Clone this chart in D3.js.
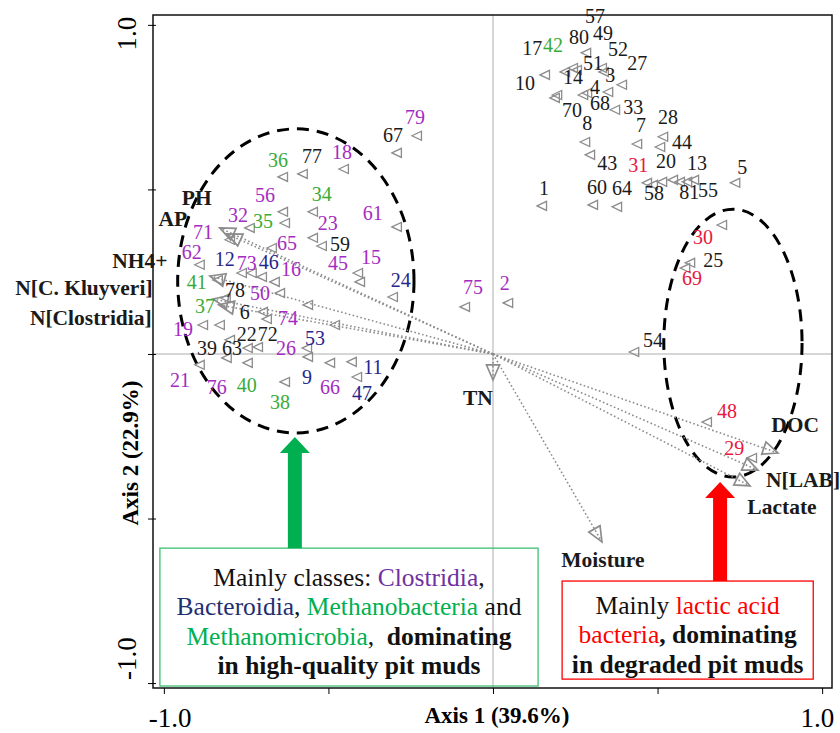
<!DOCTYPE html>
<html lang="en">
<head>
<meta charset="UTF-8">
<title>RDA biplot</title>
<script src="https://d3js.org/d3.v7.min.js"></script>
<style>
  body { margin: 0; background: #fff; }
  text { font-family: "Liberation Serif", "Times New Roman", serif; }
  .lab { font-size: 20px; }
  .env { font-size: 21.5px; font-weight: bold; fill: #1a1a1a; }
  .tri { fill: none; stroke: #8c8c8c; stroke-width: 1.3px; }
  .vec { stroke: #8c8c8c; stroke-width: 1.6px; stroke-dasharray: 1.6 2.4; fill: none; }
  .head { fill: none; stroke: #8c8c8c; stroke-width: 1.7px; }
  .zero { stroke: #c8c8c8; stroke-width: 1.5px; }
  .ell { fill: none; stroke: #000; stroke-width: 3px; stroke-dasharray: 12 8; }
  .box-text { font-size: 25.5px; }
</style>
</head>
<body>
<svg width="840" height="733"></svg>
<script>
// sample scores: id, class, point x, point y, label x, label y
const samples = [
  ["57","k",0.283,0.915,0.310,1.027], ["17","k",0.158,0.848,0.119,0.930],
  ["42","m",0.219,0.857,0.182,0.939], ["80","k",0.243,0.869,0.261,0.964],
  ["49","k",0.331,0.869,0.334,0.976], ["52","k",0.337,0.857,0.380,0.927],
  ["51","k",0.274,0.787,0.304,0.884], ["3","k",0.350,0.796,0.356,0.848],
  ["27","k",0.392,0.818,0.438,0.884], ["10","k",0.195,0.787,0.097,0.824],
  ["14","k",0.255,0.863,0.243,0.842], ["4","k",0.286,0.793,0.310,0.812],
  ["68","k",0.371,0.742,0.325,0.763], ["70","k",0.188,0.778,0.240,0.742],
  ["8","k",0.280,0.644,0.286,0.702], ["33","k",0.438,0.638,0.426,0.751],
  ["7","k",0.508,0.629,0.450,0.696], ["28","k",0.517,0.660,0.532,0.720],
  ["44","k",0.547,0.529,0.574,0.644], ["43","k",0.295,0.605,0.347,0.581],
  ["31","l",0.468,0.520,0.441,0.574], ["20","k",0.514,0.523,0.526,0.587],
  ["13","k",0.590,0.523,0.620,0.581], ["81","k",0.568,0.523,0.596,0.492],
  ["55","k",0.611,0.529,0.653,0.498], ["58","k",0.486,0.514,0.489,0.489],
  ["5","k",0.736,0.520,0.757,0.568], ["1","k",0.149,0.450,0.155,0.505],
  ["60","k",0.304,0.453,0.316,0.508], ["64","k",0.377,0.447,0.392,0.505],
  ["79","c",-0.231,0.663,-0.237,0.720], ["67","k",-0.292,0.611,-0.304,0.666],
  ["75","c",-0.085,0.143,-0.061,0.204], ["2","c",0.046,0.155,0.036,0.216],
  ["54","k",0.429,0.006,0.486,0.043], ["24","b",-0.304,0.173,-0.280,0.225],
  ["61","c",-0.292,0.386,-0.365,0.429],
  ["30","l",0.696,0.392,0.638,0.356], ["25","k",0.599,0.277,0.669,0.286],
  ["69","l",0.584,0.261,0.605,0.231], ["48","l",0.650,-0.207,0.711,-0.173],
  ["29","l",0.787,-0.316,0.733,-0.286],
  ["36","m",-0.638,0.538,-0.653,0.590], ["77","k",-0.578,0.547,-0.550,0.602],
  ["18","c",-0.453,0.562,-0.459,0.614], ["56","c",-0.638,0.432,-0.693,0.483],
  ["34","m",-0.547,0.432,-0.520,0.486], ["32","c",-0.739,0.383,-0.775,0.422],
  ["35","m",-0.632,0.398,-0.699,0.404], ["23","c",-0.547,0.353,-0.502,0.398],
  ["59","k",-0.520,0.328,-0.465,0.334], ["71","c",-0.799,0.347,-0.881,0.371],
  ["65","c",-0.672,0.322,-0.626,0.337], ["62","c",-0.891,0.271,-0.915,0.310],
  ["12","b",-0.763,0.246,-0.815,0.289], ["73","c",-0.733,0.246,-0.748,0.277],
  ["46","b",-0.702,0.234,-0.681,0.280], ["16","c",-0.663,0.219,-0.614,0.258],
  ["45","c",-0.410,0.246,-0.471,0.277], ["15","c",-0.404,0.219,-0.371,0.295],
  ["41","m",-0.836,0.225,-0.900,0.219], ["78","k",-0.812,0.170,-0.784,0.195],
  ["50","c",-0.647,0.185,-0.708,0.185], ["37","m",-0.830,0.088,-0.875,0.146],
  ["6","k",-0.699,0.128,-0.754,0.128], ["74","c",-0.562,0.149,-0.623,0.109],
  ["19","c",-0.881,0.088,-0.942,0.076], ["22","k",-0.714,0.021,-0.748,0.061],
  ["72","k",-0.687,0.106,-0.684,0.061], ["53","b",-0.480,0.088,-0.541,0.049],
  ["39","k",-0.799,0.043,-0.869,0.018], ["63","k",-0.745,0.018,-0.793,0.018],
  ["26","c",-0.565,0.018,-0.629,0.018], ["21","c",-0.891,-0.033,-0.951,-0.079],
  ["76","c",-0.809,-0.012,-0.839,-0.100], ["40","m",-0.745,-0.027,-0.748,-0.094],
  ["9","b",-0.562,-0.009,-0.565,-0.070], ["66","c",-0.495,-0.027,-0.495,-0.100],
  ["11","b",-0.429,-0.024,-0.365,-0.040], ["47","b",-0.413,-0.070,-0.398,-0.119],
  ["38","m",-0.632,-0.085,-0.647,-0.146]
];

const classColor = {k: "#1a1a1a", c: "#a42cc2", b: "#26268c", m: "#3aab36", l: "#e8173c"};

// environmental vectors: name, tip x, tip y, label x, label y
const envVars = [
  ["PH", -0.830, 0.383, -0.900, 0.474],
  ["AP", -0.809, 0.365, -0.973, 0.410],
  ["NH4+", -0.860, 0.237, -1.073, 0.283],
  ["N[C. Kluyveri]", -0.851, 0.167, -1.243, 0.201],
  ["N[Clostridia]", -0.833, 0.149, -1.222, 0.109],
  ["TN", 0, -0.079, -0.046, -0.134],
  ["Moisture", 0.331, -0.571, 0.334, -0.626],
  ["DOC", 0.866, -0.301, 0.918, -0.216],
  ["N[LAB]", 0.805, -0.353, 0.942, -0.383],
  ["Lactate", 0.781, -0.401, 0.878, -0.465]
];

// grouping ellipses: cx, cy, rx, ry
const ellipses = [[-0.599, 0.222, 0.359, 0.462], [0.729, 0.033, 0.210, 0.407]];

const ticks = [-1, -0.5, 0, 0.5, 1];

// annotation boxes: x0, x1, y0, y1, frame colour, arrow tip y, arrow colour
const boxes = [
  {x0: -1.012, x1: 0.137, y0: -0.590, y1: -1.009, stroke: "#3cbf72",
   ax: -0.602, tip: -0.252, fill: "#00b050",
   lines: [
     [["Mainly classes: ", "#111"], ["Clostridia", "#7030a0"], [",", "#111"]],
     [["Bacteroidia", "#1f3070"], [", ", "#111"], ["Methanobacteria", "#00b050"], [" and", "#111"]],
     [["Methanomicrobia", "#00b050"], [",  ", "#111"], ["dominating", "#111", "bold"]],
     [["in high-quality pit muds", "#111", "bold"]]
   ]},
  {x0: 0.210, x1: 0.973, y0: -0.690, y1: -0.988, stroke: "#ff0000",
   ax: 0.690, tip: -0.389, fill: "#ff0000",
   lines: [
     [["Mainly ", "#111"], ["lactic acid", "#ff0000"]],
     [["bacteria", "#ff0000"], [", dominating", "#111", "bold"]],
     [["in degraded pit muds", "#111", "bold"]]
   ]}
];

const svg = d3.select("svg");
const x = d3.scaleLinear().domain([-1.033, 1.03]).range([153, 832]);
const y = d3.scaleLinear().domain([-1.015, 1.03]).range([688, 15]);

// zero lines
svg.append("line").attr("class", "zero")
  .attr("x1", x(0)).attr("x2", x(0)).attr("y1", y.range()[1]).attr("y2", y.range()[0]);
svg.append("line").attr("class", "zero")
  .attr("x1", x.range()[0]).attr("x2", x.range()[1]).attr("y1", y(0)).attr("y2", y(0));

// frame + ticks
svg.append("rect")
  .attr("x", x.range()[0]).attr("y", y.range()[1])
  .attr("width", x.range()[1] - x.range()[0]).attr("height", y.range()[0] - y.range()[1])
  .attr("fill", "none").attr("stroke", "#111").attr("stroke-width", 1.5);

svg.append("g").attr("transform", `translate(0,${y.range()[0]})`)
  .call(d3.axisBottom(x).tickValues(ticks).tickSize(6).tickFormat(""))
  .call(g => g.select(".domain").remove());
svg.append("g").attr("transform", `translate(${x.range()[0] + 3},0)`)
  .call(d3.axisLeft(y).tickValues(ticks).tickSize(8).tickFormat(""))
  .call(g => g.select(".domain").remove());

// tick labels
svg.append("text").attr("x", x(-1) - 15).attr("y", 727).attr("font-size", 27).text("-1.0");
svg.append("text").attr("x", x(1) + 12).attr("y", 727).attr("font-size", 27)
  .attr("text-anchor", "end").text("1.0");
svg.append("text").attr("transform", `translate(136,${y(1) - 8}) rotate(-90)`)
  .attr("font-size", 27).attr("text-anchor", "end").text("1.0");
svg.append("text").attr("transform", `translate(136,${y(-1) - 3}) rotate(-90)`)
  .attr("font-size", 27).attr("text-anchor", "start").text("-1.0");

// axis titles
svg.append("text").attr("x", 497).attr("y", 723).attr("text-anchor", "middle")
  .attr("font-size", 23).attr("font-weight", "bold").text("Axis 1 (39.6%)");
svg.append("text").attr("transform", "translate(138,453) rotate(-90)").attr("text-anchor", "middle")
  .attr("font-size", 23).attr("font-weight", "bold").text("Axis 2 (22.9%)");

// ellipses
svg.append("g").selectAll("ellipse").data(ellipses).join("ellipse")
  .attr("class", "ell")
  .attr("cx", d => x(d[0])).attr("cy", d => y(d[1]))
  .attr("rx", d => x(d[2]) - x(0)).attr("ry", d => y(0) - y(d[3]));

// environmental vectors
const vg = svg.append("g");
vg.selectAll("line").data(envVars).join("line")
  .attr("class", "vec")
  .attr("x1", x(0)).attr("y1", y(0))
  .attr("x2", d => x(d[1])).attr("y2", d => y(d[2]));
vg.selectAll("path").data(envVars).join("path")
  .attr("class", "head")
  .attr("d", d => {
    const tx = x(d[1]), ty = y(d[2]);
    const a = Math.atan2(ty - y(0), tx - x(0));
    const L = 15, W = 6.5;
    const bx = tx - L * Math.cos(a), by = ty - L * Math.sin(a);
    const px = -Math.sin(a) * W, py = Math.cos(a) * W;
    return `M${tx},${ty}L${bx + px},${by + py}L${bx - px},${by - py}Z`;
  });
vg.selectAll("text").data(envVars).join("text")
  .attr("class", "env")
  .attr("x", d => x(d[3])).attr("y", d => y(d[4]))
  .attr("text-anchor", "middle").attr("dominant-baseline", "central")
  .text(d => d[0]);

// sample points and labels
const sg = svg.append("g");
sg.selectAll("path").data(samples).join("path")
  .attr("class", "tri")
  .attr("transform", d => `translate(${x(d[2])},${y(d[3])})`)
  .attr("d", "M-5,0L4.5,-4.5L4.5,4.5Z");
sg.selectAll("text").data(samples).join("text")
  .attr("class", "lab")
  .attr("x", d => x(d[4])).attr("y", d => y(d[5]))
  .attr("text-anchor", "middle").attr("dominant-baseline", "central")
  .attr("fill", d => classColor[d[1]])
  .text(d => d[0]);

// annotation boxes with block arrows
boxes.forEach(b => {
  const g = svg.append("g");
  const left = x(b.x0), right = x(b.x1), top = y(b.y0), bottom = y(b.y1);
  g.append("rect").attr("x", left).attr("y", top)
    .attr("width", right - left).attr("height", bottom - top)
    .attr("fill", "none").attr("stroke", b.stroke).attr("stroke-width", 1.3);
  const ax = x(b.ax), tipY = y(b.tip), headY = tipY + 16;
  g.append("path").attr("fill", b.fill)
    .attr("d", `M${ax},${tipY}L${ax + 15},${headY}L${ax + 7},${headY}L${ax + 7},${top}` +
      `L${ax - 7},${top}L${ax - 7},${headY}L${ax - 15},${headY}Z`);
  const cx = (left + right) / 2, lh = 29.5;
  const cy = (top + bottom) / 2 + 4 - (b.lines.length - 1) * lh / 2;
  b.lines.forEach((parts, i) => {
    const t = g.append("text").attr("class", "box-text")
      .attr("x", cx).attr("y", cy + i * lh)
      .attr("text-anchor", "middle").attr("dominant-baseline", "central")
      .attr("xml:space", "preserve");
    parts.forEach(p => t.append("tspan").attr("fill", p[1])
      .attr("font-weight", p[2] || "normal").text(p[0]));
  });
});
</script>
</body>
</html>
